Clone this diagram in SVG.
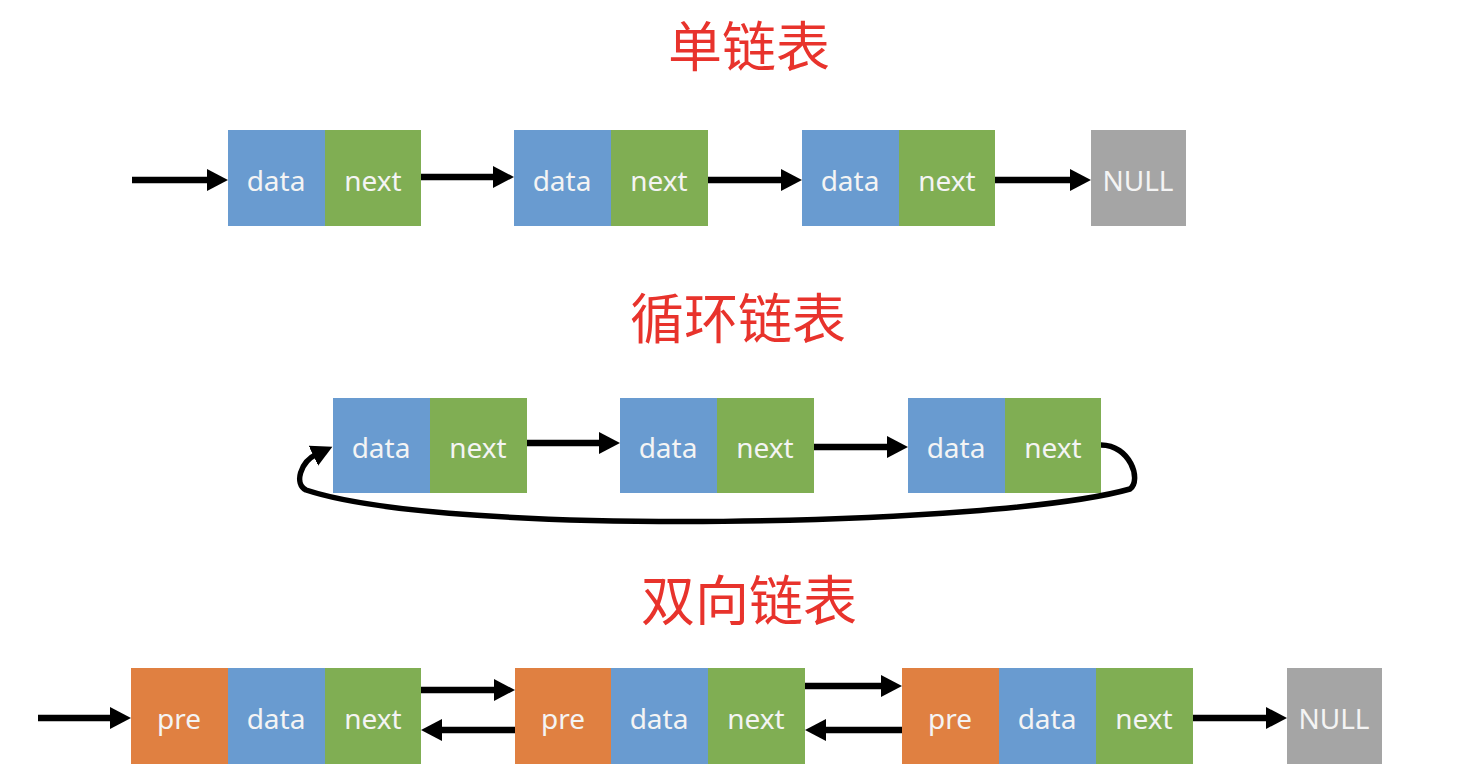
<svg xmlns="http://www.w3.org/2000/svg" width="1468" height="784" viewBox="0 0 1468 784">
<style>
.t{font-family:"Noto Sans CJK SC","Noto Sans",sans-serif;font-size:54px;fill:#E8332C;text-anchor:middle}
.l{font-family:"Noto Sans","Noto Sans CJK SC",sans-serif;font-size:28px;fill:#F4F4F4;text-anchor:middle}
.b{fill:#699BD0}
.g{fill:#80AE53}
.o{fill:#E08041}
.n{fill:#A5A5A5}
.a{stroke:#000;stroke-width:6.5;fill:none}
.c{stroke:#000;stroke-width:5.5;fill:none}
</style>
<defs>
<marker id="ah" markerUnits="userSpaceOnUse" markerWidth="22" markerHeight="24" refX="4" refY="11" orient="auto" viewBox="0 0 22 24">
<path d="M0,0 L21,11 L0,22 z" fill="#000"/>
</marker>
</defs>
<rect width="1468" height="784" fill="#fff"/>
<text class="t" x="749" y="67">单链表</text>
<text class="t" x="738" y="339">循环链表</text>
<text class="t" x="749" y="621">双向链表</text>

<g id="s1">
<g id="s1n1"><rect class="b" x="228" y="130" width="97" height="96"/><rect class="g" x="325" y="130" width="96" height="96"/><text class="l" x="276" y="191">data</text><text class="l" x="373" y="191">next</text></g>
<g id="s1n2"><rect class="b" x="514" y="130" width="97" height="96"/><rect class="g" x="611" y="130" width="97" height="96"/><text class="l" x="562" y="191">data</text><text class="l" x="659" y="191">next</text></g>
<g id="s1n3"><rect class="b" x="802" y="130" width="97" height="96"/><rect class="g" x="899" y="130" width="96" height="96"/><text class="l" x="850" y="191">data</text><text class="l" x="947" y="191">next</text></g>
<g id="s1null"><rect class="n" x="1091" y="130" width="95" height="96"/><text class="l" x="1138" y="191">NULL</text></g>
</g>

<g id="s2">
<g id="s2n1"><rect class="b" x="333" y="398" width="97" height="95"/><rect class="g" x="430" y="398" width="97" height="95"/><text class="l" x="381" y="458">data</text><text class="l" x="478" y="458">next</text></g>
<g id="s2n2"><rect class="b" x="620" y="398" width="97" height="95"/><rect class="g" x="717" y="398" width="97" height="95"/><text class="l" x="668" y="458">data</text><text class="l" x="765" y="458">next</text></g>
<g id="s2n3"><rect class="b" x="908" y="398" width="97" height="95"/><rect class="g" x="1005" y="398" width="96" height="95"/><text class="l" x="956" y="458">data</text><text class="l" x="1053" y="458">next</text></g>
</g>

<g id="s3">
<g id="s3n1"><rect class="o" x="131" y="668" width="97" height="96"/><rect class="b" x="228" y="668" width="97" height="96"/><rect class="g" x="325" y="668" width="96" height="96"/><text class="l" x="179" y="729">pre</text><text class="l" x="276" y="729">data</text><text class="l" x="373" y="729">next</text></g>
<g id="s3n2"><rect class="o" x="515" y="668" width="96" height="96"/><rect class="b" x="611" y="668" width="97" height="96"/><rect class="g" x="708" y="668" width="97" height="96"/><text class="l" x="563" y="729">pre</text><text class="l" x="659" y="729">data</text><text class="l" x="756" y="729">next</text></g>
<g id="s3n3"><rect class="o" x="902" y="668" width="97" height="96"/><rect class="b" x="999" y="668" width="97" height="96"/><rect class="g" x="1096" y="668" width="97" height="96"/><text class="l" x="950" y="729">pre</text><text class="l" x="1047" y="729">data</text><text class="l" x="1144" y="729">next</text></g>
<g id="s3null"><rect class="n" x="1287" y="668" width="95" height="96"/><text class="l" x="1334" y="729">NULL</text></g>
</g>

<g id="connectors">
<path class="a" marker-end="url(#ah)" d="M132,180 H211"/>
<path class="a" marker-end="url(#ah)" d="M421,177 H497"/>
<path class="a" marker-end="url(#ah)" d="M708,180 H785"/>
<path class="a" marker-end="url(#ah)" d="M995,180 H1074"/>
<path class="a" marker-end="url(#ah)" d="M527,443 H603"/>
<path class="a" marker-end="url(#ah)" d="M814,447 H891"/>
<path class="c" marker-end="url(#ah)" d="M1101,445 C1130,445 1142,480 1130,489 C1000,526 450,538 306,490 C294,484 300,462 317,454"/>
<path class="a" marker-end="url(#ah)" d="M38,718 H114"/>
<path class="a" marker-end="url(#ah)" d="M421,690 H498"/>
<path class="a" marker-end="url(#ah)" d="M515,730 H438"/>
<path class="a" marker-end="url(#ah)" d="M805,686 H885"/>
<path class="a" marker-end="url(#ah)" d="M902,730 H822"/>
<path class="a" marker-end="url(#ah)" d="M1193,718 H1270"/>
</g>
</svg>
